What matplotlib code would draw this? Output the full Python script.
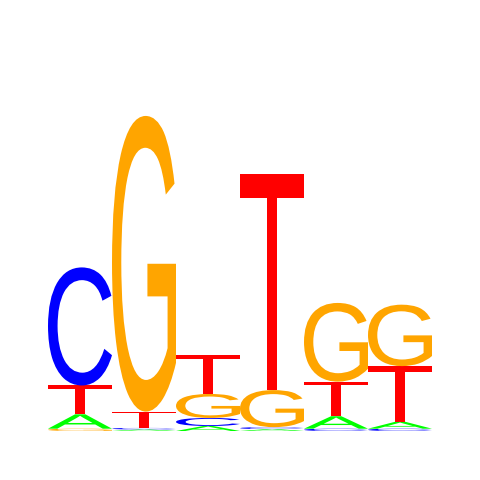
import matplotlib
matplotlib.use('Agg')
import matplotlib.pyplot as plt
from matplotlib.textpath import TextPath
from matplotlib.patches import PathPatch
from matplotlib.font_manager import FontProperties
from matplotlib.transforms import Affine2D

# information content (bits) of each base at positions 1..6
positions = [1, 2, 3, 4, 5, 6]
A_bits = [0.075, 0.008, 0.026, 0.010, 0.065, 0.036]
C_bits = [0.615, 0.008, 0.042, 0.010, 0.012, 0.012]
G_bits = [0.012, 1.540, 0.125, 0.193, 0.410, 0.320]
T_bits = [0.150, 0.085, 0.203, 1.125, 0.180, 0.290]

colors = {'A': '#00ff00', 'C': '#0000ff', 'G': '#ffa500', 'T': '#ff0000'}
font = FontProperties(family='Liberation Sans', weight='normal')


def draw_letter(ax, letter, x, y, w, h):
    # stretch the glyph outline to fill the box (x, y, w, h)
    tp = TextPath((0, 0), letter, size=1, prop=font)
    ext = tp.get_extents()
    tr = Affine2D().translate(-ext.x0, -ext.y0) \
        .scale(w / ext.width, h / ext.height).translate(x, y)
    path = tr.transform_path(tp)
    ax.add_patch(PathPatch(path, facecolor=colors[letter], edgecolor='none'))


fig = plt.figure(figsize=(4.8, 4.8), dpi=100)
ax = fig.add_axes([48 / 480, 49 / 480, 384 / 480, 384 / 480])

for i, pos in enumerate(positions):
    col = {'A': A_bits[i], 'C': C_bits[i], 'G': G_bits[i], 'T': T_bits[i]}
    bottom = 0
    for letter, h in sorted(col.items(), key=lambda kv: kv[1]):
        draw_letter(ax, letter, pos - 0.5, bottom, 1.0, h)
        bottom += h

ax.set_xlim(0.5, 6.5)
ax.set_ylim(0, 2)
ax.axis('off')
fig.savefig('out.png', dpi=100)
